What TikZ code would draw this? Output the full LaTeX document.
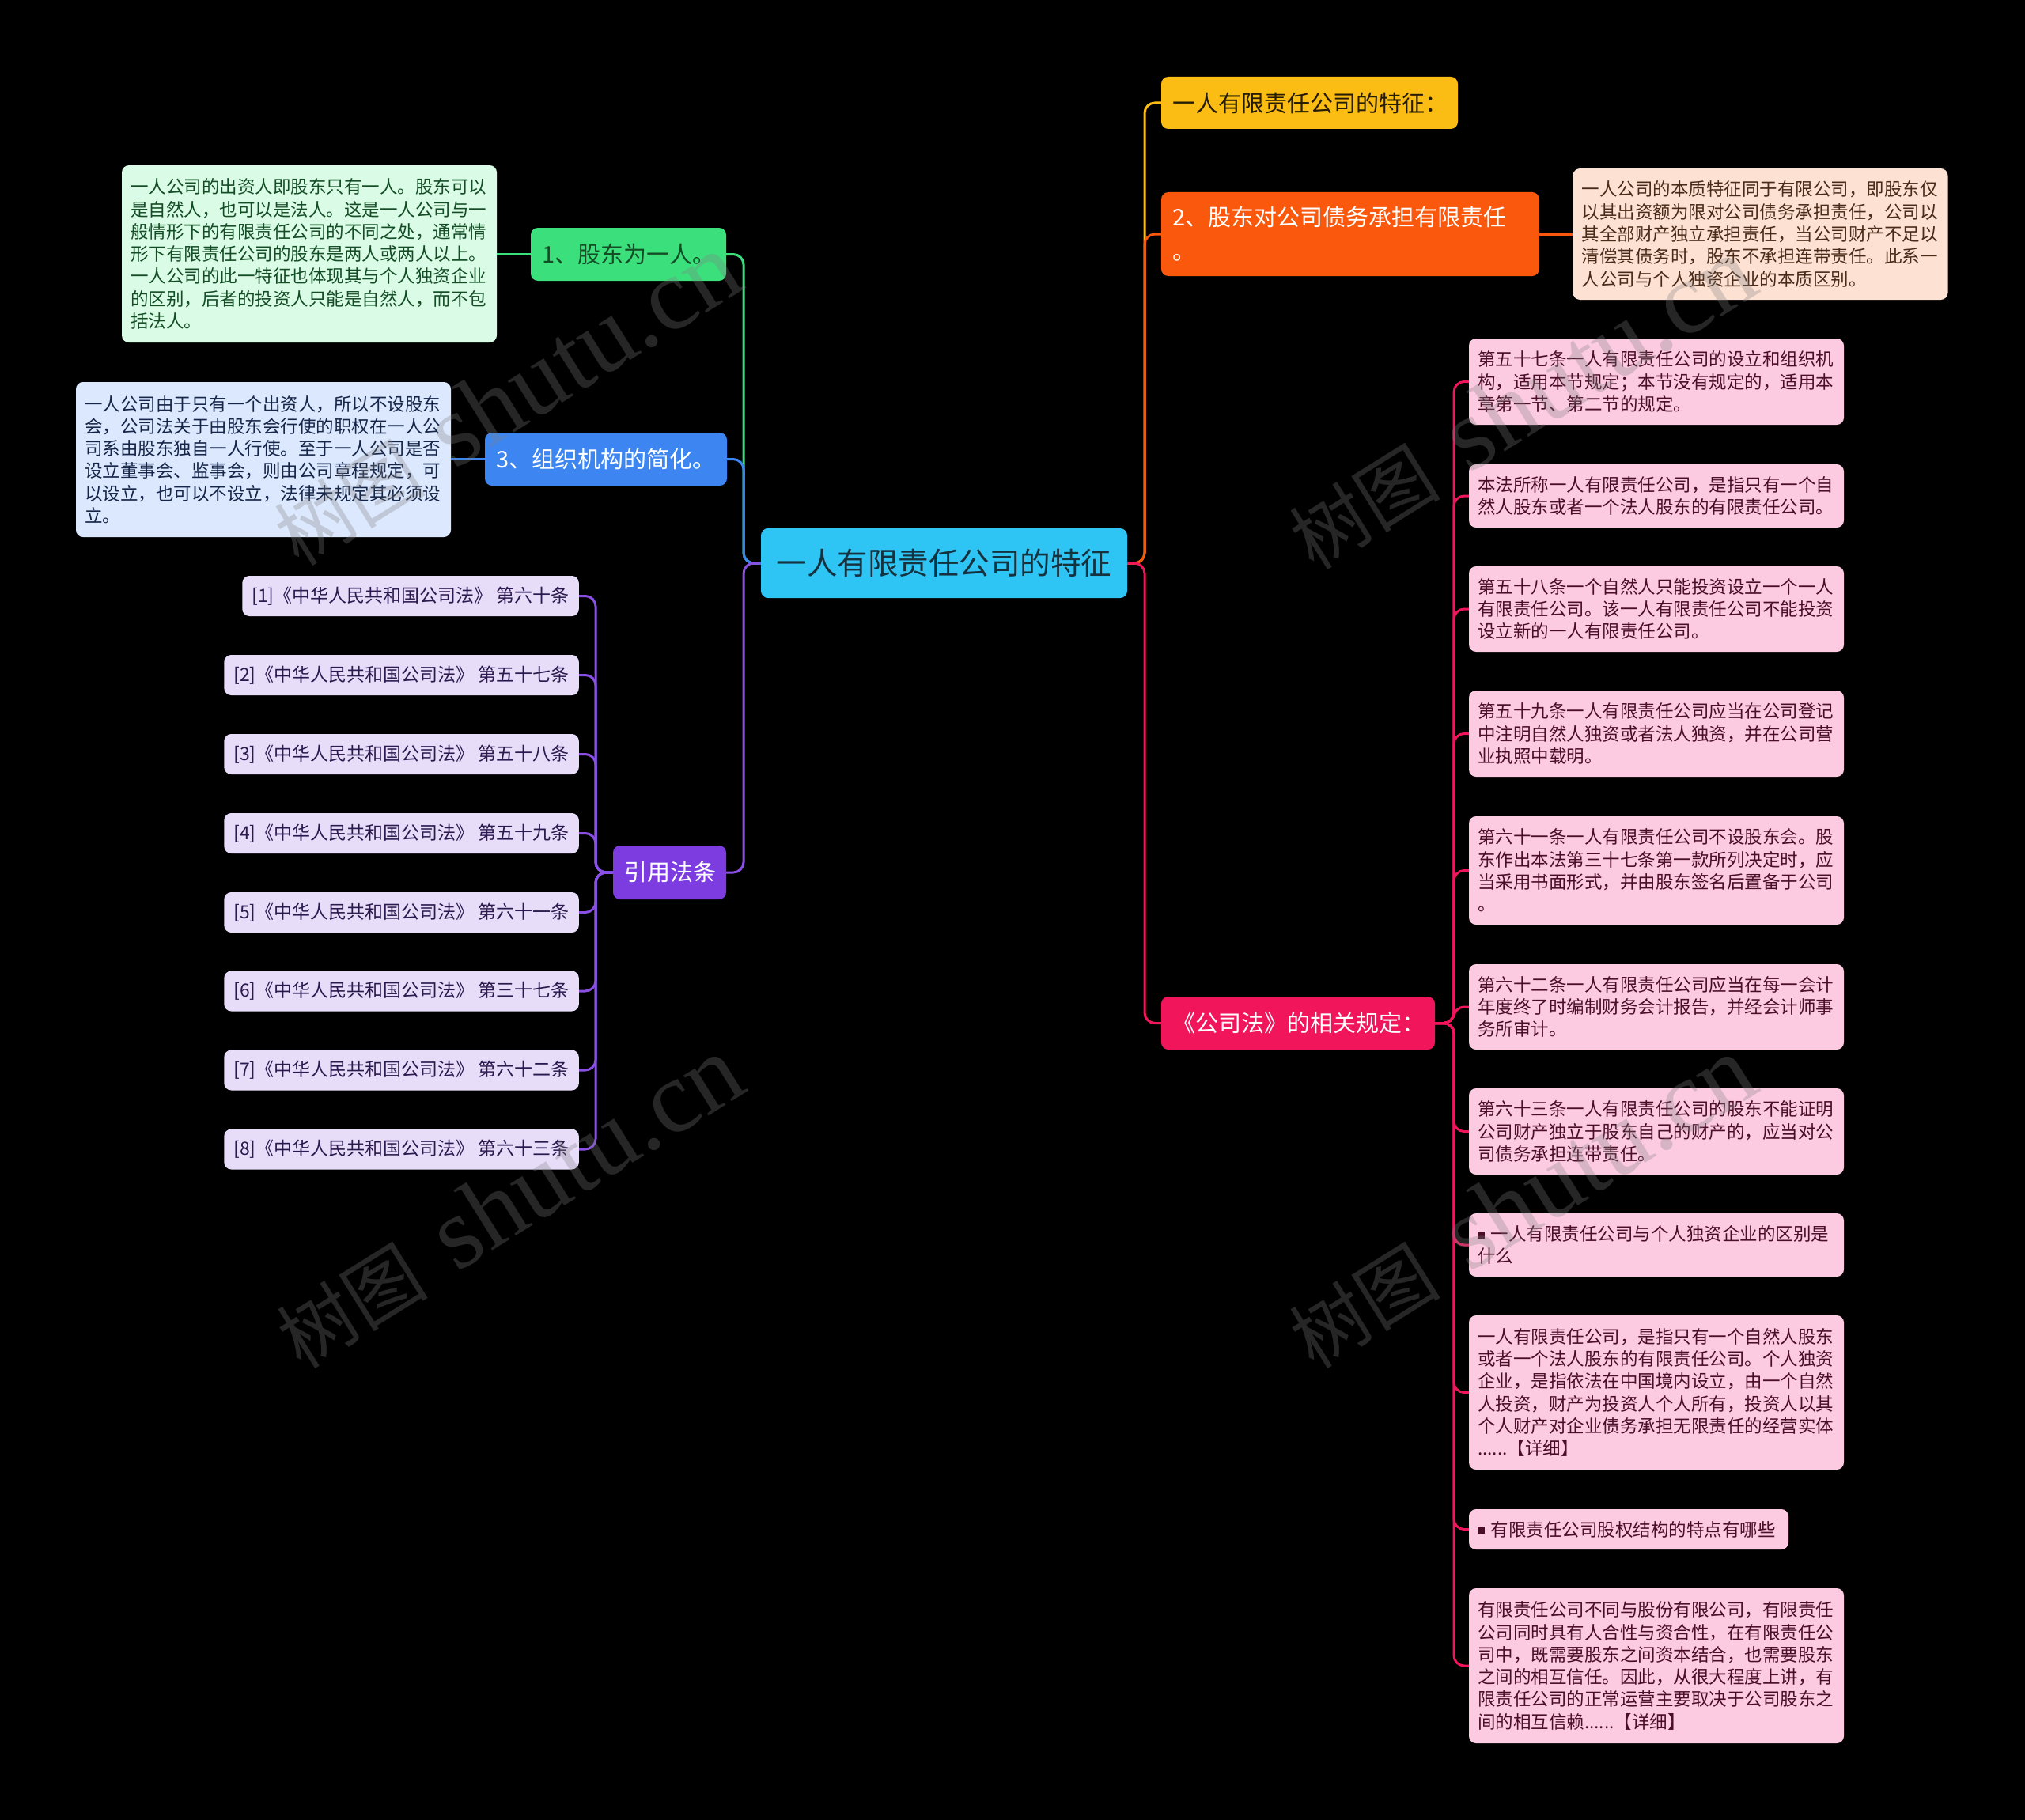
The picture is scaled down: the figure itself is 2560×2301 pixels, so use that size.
\documentclass[tikz,border=0pt]{standalone}
\usepackage{fontspec}
\newfontfamily\cjk{Noto Sans CJK SC}
\newfontfamily\wmserif{Liberation Serif}
\definecolor{cyanc}{HTML}{2EC4F4}
\definecolor{yel}{HTML}{FBBD14}
\definecolor{ora}{HTML}{FA580C}
\definecolor{orad}{HTML}{FDE1D2}
\definecolor{grn}{HTML}{3BE07C}
\definecolor{grnd}{HTML}{DAFBE5}
\definecolor{blu}{HTML}{3D86F2}
\definecolor{blud}{HTML}{DCE8FD}
\definecolor{pur}{HTML}{7C3CE0}
\definecolor{purd}{HTML}{E8DDF9}
\definecolor{pnk}{HTML}{F1155C}
\definecolor{pnkd}{HTML}{FDCBE1}
\definecolor{darkslate}{HTML}{16323F}
\definecolor{tgreen}{HTML}{134D26}
\definecolor{tblue}{HTML}{16264A}
\definecolor{tbrown}{HTML}{4A2A18}
\definecolor{tpink}{HTML}{4A0E26}
\definecolor{tpurp}{HTML}{2B1A4F}
\newcommand\dtxtfont{\cjk\fontsize{22.5pt}{28.3pt}\selectfont}
\newcommand\mtxtfont{\cjk\fontsize{29pt}{43pt}\selectfont}
\newcommand\sqbul{\rule[3pt]{9pt}{9pt}}
\newcommand\wmtext{{\cjk\fontsize{96pt}{96pt}\selectfont 树图}\hspace{40pt}{\wmserif\fontsize{130pt}{130pt}\selectfont shutu.cn}}
\tikzset{
  box/.style={rounded corners=9pt, inner ysep=0pt, anchor=center},
  mainbox/.style={box, font=\mtxtfont, inner xsep=14pt, align=left},
  detail/.style={box, font=\dtxtfont, inner xsep=11pt, text width=452pt, align=left},
  cite/.style={box, font={\cjk\fontsize{23pt}{28pt}\selectfont}, fill=purd, text=tpurp, inner xsep=12pt, minimum height=51pt, anchor=east},
  conn/.style={line width=3pt, rounded corners=13pt},
  gline/.style={conn, draw=grn},
  bline/.style={conn, draw=blu},
  pline/.style={conn, draw=pur!90!white},
  yline/.style={conn, draw=yel},
  oline/.style={conn, draw=ora},
  kline/.style={conn, draw=pnk},
  wmark/.style={rotate=32, text=gray, opacity=0.3, inner sep=0pt}
}
\begin{document}
\begin{tikzpicture}[x=1pt,y=-1pt]
\fill[black] (0,0) rectangle (2560,2301);
\useasboundingbox (0,0) rectangle (2560,2301);

% central
\node[box, fill=cyanc, text=darkslate, font={\cjk\fontsize{38.5pt}{44pt}\selectfont}, minimum width=463pt, minimum height=88pt] (ctr) at (1193.5,712) {一人有限责任公司的特征};

% right main branches
\node[mainbox, fill=yel, text=black!85!yel, text width=347pt, minimum height=66pt] (y) at (1655.5,130) {一人有限责任公司的特征：};
\node[mainbox, fill=ora, text=white, text width=450pt, minimum height=106pt] (o) at (1707,296) {2、股东对公司债务承担有限责任\\。};
\node[detail, fill=orad, text=tbrown, minimum height=166pt] (od) at (2225.5,296) {一人公司的本质特征同于有限公司，即股东仅\\以其出资额为限对公司债务承担责任，公司以\\其全部财产独立承担责任，当公司财产不足以\\清偿其债务时，股东不承担连带责任。此系一\\人公司与个人独资企业的本质区别。};
\node[mainbox, fill=pnk, text=white, text width=318pt, minimum height=67pt] (pk) at (1641,1293.5) {《公司法》的相关规定：};

% left main branches
\node[mainbox, fill=grn, text=tgreen, text width=219pt, minimum height=67pt] (g) at (794.5,321.5) {1、股东为一人。};
\node[detail, fill=grnd, text=tgreen, minimum height=224pt] (gd) at (391,321) {一人公司的出资人即股东只有一人。股东可以\\是自然人，也可以是法人。这是一人公司与一\\般情形下的有限责任公司的不同之处，通常情\\形下有限责任公司的股东是两人或两人以上。\\一人公司的此一特征也体现其与个人独资企业\\的区别，后者的投资人只能是自然人，而不包\\括法人。};
\node[mainbox, fill=blu, text=white, text width=278pt, minimum height=67pt] (b) at (766,580.5) {3、组织机构的简化。};
\node[detail, fill=blud, text=tblue, minimum height=196pt] (bd) at (333,581) {一人公司由于只有一个出资人，所以不设股东\\会，公司法关于由股东会行使的职权在一人公\\司系由股东独自一人行使。至于一人公司是否\\设立董事会、监事会，则由公司章程规定，可\\以设立，也可以不设立，法律未规定其必须设\\立。};
\node[mainbox, fill=pur, text=white, text width=115pt, minimum height=68pt] (p) at (846.5,1103) {引用法条};

% citations
\node[cite] (r1) at (732,753.5) {[1]《中华人民共和国公司法》 第六十条};
\node[cite] (r2) at (732,853.5) {[2]《中华人民共和国公司法》 第五十七条};
\node[cite] (r3) at (732,953.5) {[3]《中华人民共和国公司法》 第五十八条};
\node[cite] (r4) at (732,1053.5) {[4]《中华人民共和国公司法》 第五十九条};
\node[cite] (r5) at (732,1153.5) {[5]《中华人民共和国公司法》 第六十一条};
\node[cite] (r6) at (732,1253) {[6]《中华人民共和国公司法》 第三十七条};
\node[cite] (r7) at (732,1353) {[7]《中华人民共和国公司法》 第六十二条};
\node[cite] (r8) at (732,1453) {[8]《中华人民共和国公司法》 第六十三条};

% pink children
\tikzset{pk/.style={detail, fill=pnkd, text=tpink}}
\node[pk, minimum height=109pt] (c1) at (2094,482.5) {第五十七条一人有限责任公司的设立和组织机\\构，适用本节规定；本节没有规定的，适用本\\章第一节、第二节的规定。};
\node[pk, minimum height=80pt] (c2) at (2094,627) {本法所称一人有限责任公司，是指只有一个自\\然人股东或者一个法人股东的有限责任公司。};
\node[pk, minimum height=108pt] (c3) at (2094,770) {第五十八条一个自然人只能投资设立一个一人\\有限责任公司。该一人有限责任公司不能投资\\设立新的一人有限责任公司。};
\node[pk, minimum height=109pt] (c4) at (2094,927.5) {第五十九条一人有限责任公司应当在公司登记\\中注明自然人独资或者法人独资，并在公司营\\业执照中载明。};
\node[pk, minimum height=137pt] (c5) at (2094,1100.5) {第六十一条一人有限责任公司不设股东会。股\\东作出本法第三十七条第一款所列决定时，应\\当采用书面形式，并由股东签名后置备于公司\\。};
\node[pk, minimum height=108pt] (c6) at (2094,1273) {第六十二条一人有限责任公司应当在每一会计\\年度终了时编制财务会计报告，并经会计师事\\务所审计。};
\node[pk, minimum height=109pt] (c7) at (2094,1430.5) {第六十三条一人有限责任公司的股东不能证明\\公司财产独立于股东自己的财产的，应当对公\\司债务承担连带责任。};
\node[pk, minimum height=80pt] (c8) at (2094,1574) {\sqbul{} 一人有限责任公司与个人独资企业的区别是\\什么};
\node[pk, minimum height=195pt] (c9) at (2094,1760.5) {一人有限责任公司，是指只有一个自然人股东\\或者一个法人股东的有限责任公司。个人独资\\企业，是指依法在中国境内设立，由一个自然\\人投资，财产为投资人个人所有，投资人以其\\个人财产对企业债务承担无限责任的经营实体\\......【详细】};
\node[pk, text width=382pt, minimum height=51pt] (c10) at (2059,1933.5) {\sqbul{} 有限责任公司股权结构的特点有哪些};
\node[pk, minimum height=196pt] (c11) at (2094,2106) {有限责任公司不同与股份有限公司，有限责任\\公司同时具有人合性与资合性，在有限责任公\\司中，既需要股东之间资本结合，也需要股东\\之间的相互信任。因此，从很大程度上讲，有\\限责任公司的正常运营主要取决于公司股东之\\间的相互信赖......【详细】};

% connectors left
\draw[gline] (ctr.west) -- (940,712) |- (g.east);
\draw[bline] (ctr.west) -- (940,712) |- (b.east);
\draw[pline] (ctr.west) -- (940,712) |- (p.east);
\draw[gline] (g.west) -- (gd.east |- g.west);
\draw[bline] (b.west) -- (bd.east |- b.west);
\foreach \c in {r1,r2,r3,r4,r5,r6,r7,r8}
  \draw[pline] (p.west) -- (753,1103) |- (\c.east);

% connectors right
\draw[yline] (ctr.east) -- (1447,712) |- (y.west);
\draw[oline] (ctr.east) -- (1447,712) |- (o.west);
\draw[kline] (ctr.east) -- (1447,712) |- (pk.west);
\draw[oline] (o.east) -- (od.west |- o.east);
\foreach \c in {c1,c2,c3,c4,c5,c6,c7,c8,c9,c10,c11}
  \draw[kline] (pk.east) -- (1838,1293.5) |- (\c.west);

% watermarks
\node[wmark] (w1) at (640,505) {\wmtext};
\node[wmark] (w2) at (643,1520) {\wmtext};
\node[wmark] (w3) at (1923,510) {\wmtext};
\node[wmark] (w4) at (1923,1520) {\wmtext};
\end{tikzpicture}
\end{document}
